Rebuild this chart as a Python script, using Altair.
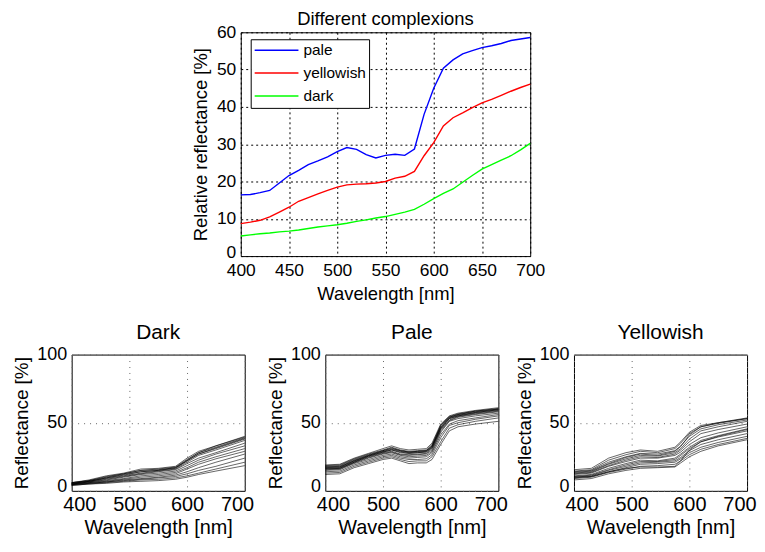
import altair as alt
import pandas as pd

FONT = "Liberation Sans"

# ---------- top panel: mean reflectance per complexion ----------
top_wl = [400, 410, 420, 430, 440, 450, 460, 470, 480, 490, 500, 510, 520, 530, 540,
          550, 560, 570, 580, 590, 600, 610, 620, 630, 640, 650, 660, 670, 680, 690, 700]
pale = [16.4, 16.5, 17.0, 17.6, 19.6, 21.6, 23.0, 24.5, 25.5, 26.6, 28.0, 29.1, 28.6, 27.2, 26.3,
        27.0, 27.3, 27.0, 28.7, 38.0, 45.0, 50.4, 52.6, 54.2, 55.1, 55.9, 56.4, 57.0, 57.8, 58.2, 58.6]
yellowish = [8.7, 9.1, 9.6, 10.5, 11.8, 13.1, 14.7, 15.7, 16.7, 17.6, 18.5, 19.1, 19.3, 19.4, 19.6,
             20.0, 20.9, 21.4, 22.7, 26.9, 30.4, 34.9, 37.1, 38.4, 39.8, 41.1, 42.0, 43.1, 44.2, 45.2, 46.1]
dark = [5.4, 5.7, 6.0, 6.2, 6.5, 6.7, 7.0, 7.4, 7.8, 8.1, 8.4, 8.8, 9.3, 9.7, 10.2,
        10.6, 11.2, 11.8, 12.5, 13.9, 15.4, 16.8, 18.0, 19.8, 21.6, 23.3, 24.5, 25.7, 26.9, 28.5, 30.2]
series_names = ["pale", "yellowish", "dark"]
series_colors = ["#0000ff", "#ff0000", "#00ff00"]

# ---------- bottom panels: individual spectra ----------
dark_wl = [400, 430, 460, 490, 520, 550, 580, 600, 620, 650, 700]
dark_curves = [
    [6.0, 8.0, 11.0, 13.0, 16.0, 16.5, 18.0, 24.0, 29.0, 33.0, 40.0],
    [6.0, 7.5, 10.5, 12.5, 15.0, 16.0, 17.5, 23.0, 28.0, 32.0, 39.0],
    [5.5, 7.0, 9.5, 12.0, 14.0, 15.0, 17.0, 22.0, 27.0, 31.0, 38.0],
    [5.5, 7.0, 9.0, 11.0, 13.0, 14.5, 16.0, 21.0, 26.0, 30.0, 37.0],
    [5.0, 6.5, 8.5, 10.5, 12.5, 14.0, 15.5, 20.0, 24.0, 28.0, 35.0],
    [5.0, 6.5, 8.0, 10.0, 12.0, 13.0, 14.5, 18.5, 22.5, 27.0, 33.0],
    [5.0, 6.0, 7.5, 9.0, 11.0, 12.0, 13.5, 17.0, 21.0, 25.0, 31.0],
    [4.5, 6.0, 7.0, 8.5, 10.0, 11.0, 12.5, 16.0, 19.5, 23.5, 29.0],
    [4.5, 5.5, 6.5, 8.0, 9.0, 10.0, 11.5, 14.0, 17.0, 21.0, 27.0],
    [4.5, 5.5, 6.5, 7.5, 8.5, 9.5, 10.5, 12.5, 15.0, 18.0, 24.0],
    [4.0, 5.0, 6.0, 7.0, 8.0, 8.5, 9.5, 11.0, 13.0, 16.0, 21.0],
    [4.0, 5.0, 5.5, 6.5, 7.0, 7.5, 8.5, 10.0, 12.0, 14.5, 18.5],
    [6.0, 7.5, 10.0, 12.5, 15.0, 15.5, 17.0, 22.5, 28.0, 33.0, 39.5],
    [5.5, 7.0, 9.5, 11.5, 14.0, 15.0, 16.5, 22.0, 27.0, 31.5, 38.5],
]

pale_wl = [400, 425, 450, 475, 500, 515, 530, 545, 560, 575, 585, 600, 615, 630, 660, 700]
pale_curves = [
    [19.0, 19.5, 24.0, 27.5, 31.0, 33.0, 31.0, 30.0, 30.5, 31.0, 35.0, 49.0, 55.0, 57.0, 59.0, 61.0],
    [18.5, 19.0, 23.5, 27.0, 30.0, 32.0, 30.0, 29.0, 29.5, 30.0, 34.0, 48.0, 54.5, 56.5, 58.5, 60.5],
    [18.0, 18.5, 23.0, 26.5, 29.5, 31.0, 29.5, 28.5, 29.0, 29.5, 33.0, 47.0, 54.0, 56.0, 58.0, 60.0],
    [17.5, 18.0, 22.5, 26.0, 29.0, 30.5, 29.0, 28.0, 28.5, 29.0, 32.5, 46.5, 53.5, 55.5, 57.5, 59.5],
    [17.0, 17.5, 22.0, 25.5, 28.5, 30.0, 28.0, 27.5, 28.0, 28.5, 32.0, 46.0, 53.0, 55.0, 57.0, 59.0],
    [16.5, 17.0, 21.5, 25.0, 28.0, 29.0, 27.0, 26.5, 27.0, 27.5, 31.0, 45.0, 52.0, 54.5, 56.5, 58.5],
    [16.0, 16.5, 21.0, 24.5, 27.5, 28.5, 26.5, 26.0, 26.5, 27.0, 30.0, 44.0, 51.5, 54.0, 56.0, 58.0],
    [15.5, 16.0, 20.5, 24.0, 27.0, 28.0, 26.0, 25.0, 25.5, 26.0, 29.0, 43.0, 51.0, 53.0, 55.0, 57.0],
    [15.0, 15.5, 20.0, 23.0, 26.0, 27.0, 25.0, 24.0, 24.5, 25.0, 28.0, 41.0, 49.0, 51.5, 53.5, 56.0],
    [14.0, 14.5, 19.0, 22.0, 25.0, 26.0, 24.0, 23.0, 23.0, 23.5, 26.5, 39.0, 48.0, 50.0, 52.5, 55.0],
    [13.0, 13.5, 18.0, 21.0, 24.0, 25.0, 23.0, 21.5, 22.0, 22.0, 25.0, 36.0, 46.0, 48.5, 51.0, 53.5],
    [12.0, 12.5, 17.0, 20.0, 23.0, 24.0, 22.0, 20.0, 20.5, 20.5, 23.0, 34.0, 44.0, 47.0, 49.0, 51.0],
    [17.5, 17.5, 22.0, 26.0, 29.5, 31.5, 29.5, 28.5, 29.0, 29.5, 33.0, 48.0, 54.0, 56.0, 58.5, 60.0],
    [16.5, 16.5, 21.0, 25.5, 28.5, 30.0, 28.5, 27.5, 28.0, 28.5, 31.5, 45.5, 53.0, 55.0, 57.5, 59.5],
]

yel_wl = [400, 430, 460, 490, 515, 545, 575, 585, 600, 620, 650, 700]
yel_curves = [
    [15.5, 16.5, 24.0, 28.0, 30.0, 29.0, 32.0, 36.0, 43.0, 48.0, 50.0, 53.5],
    [14.5, 15.5, 22.5, 26.5, 29.0, 28.0, 31.0, 35.0, 42.0, 47.0, 49.5, 53.0],
    [14.0, 15.0, 21.0, 25.0, 27.5, 27.0, 29.5, 33.0, 40.0, 45.5, 48.5, 52.0],
    [13.0, 14.0, 19.5, 23.5, 26.0, 25.5, 28.0, 31.0, 38.0, 44.0, 47.0, 51.0],
    [12.5, 13.5, 18.5, 22.5, 25.0, 24.5, 27.0, 30.0, 36.0, 42.0, 45.0, 49.0],
    [12.0, 13.0, 18.0, 21.5, 24.0, 24.0, 26.0, 28.5, 34.0, 39.0, 42.5, 47.0],
    [11.0, 12.0, 16.5, 20.0, 22.5, 22.0, 24.0, 27.0, 32.0, 37.0, 40.5, 45.5],
    [10.5, 11.5, 15.5, 19.0, 21.5, 21.5, 23.0, 26.0, 31.0, 36.0, 39.5, 44.0],
    [10.0, 11.0, 15.0, 18.0, 20.5, 21.0, 22.0, 24.5, 29.5, 34.0, 37.5, 42.0],
    [9.5, 10.5, 14.0, 17.0, 19.5, 20.0, 21.0, 23.5, 28.0, 32.0, 35.5, 40.0],
    [9.0, 10.0, 13.5, 16.0, 18.0, 18.5, 19.5, 22.0, 26.5, 30.5, 34.0, 38.5],
    [8.0, 9.0, 12.5, 15.0, 16.5, 17.0, 17.5, 20.5, 25.0, 29.0, 33.0, 37.5],
    [13.5, 14.5, 20.0, 24.5, 27.0, 26.0, 29.0, 32.5, 41.0, 47.0, 50.0, 53.0],
    [10.0, 10.5, 14.0, 16.5, 17.5, 17.5, 18.0, 22.0, 30.0, 36.0, 40.0, 45.0],
]

# ---------- tables ----------
top_rows = []
for name, vals in zip(series_names, [pale, yellowish, dark]):
    for w, v in zip(top_wl, vals):
        top_rows.append({"wl": w, "refl": v, "series": name})
top_df = pd.DataFrame(top_rows)


def spectra_df(wl, curves):
    rows = []
    for i, c in enumerate(curves):
        for w, v in zip(wl, c):
            rows.append({"wl": w, "refl": v, "curve": i})
    return pd.DataFrame(rows)


top_grid = dict(grid=True, gridColor="black", gridDash=[2, 3], gridOpacity=1, gridWidth=1)
top_zero_lift = {"condition": {"test": "datum.value === 0", "value": -4}, "value": 0}

top = alt.Chart(top_df).mark_line(strokeWidth=1.4).encode(
    x=alt.X("wl:Q", scale=alt.Scale(domain=[400, 700], nice=False),
            axis=alt.Axis(title="Wavelength [nm]", values=[400, 450, 500, 550, 600, 650, 700],
                          labelFontSize=17.5, titleFontSize=18.5, labelPadding=6, titlePadding=5,
                          labelFlush=False, **top_grid)),
    y=alt.Y("refl:Q", scale=alt.Scale(domain=[0, 60], nice=False),
            axis=alt.Axis(title="Relative reflectance [%]", values=[0, 10, 20, 30, 40, 50, 60],
                          labelFontSize=17.5, titleFontSize=18.5, labelPadding=5, titlePadding=6,
                          labelFlush=False, labelOffset=top_zero_lift, **top_grid)),
    color=alt.Color("series:N",
                    scale=alt.Scale(domain=series_names, range=series_colors),
                    sort=series_names,
                    legend=alt.Legend(title=None, orient="none", legendX=10, legendY=7,
                                      strokeColor="black", fillColor="white", padding=3,
                                      symbolType="stroke", symbolSize=1936, symbolStrokeWidth=1.5,
                                      labelFontSize=15.5, labelFont=FONT, labelOffset=4,
                                      clipHeight=16, rowPadding=6)),
).properties(width=291, height=225,
             title=alt.TitleParams("Different complexions", fontSize=18.5, fontWeight="normal",
                                   font=FONT, offset=-5))

spacer = alt.Chart(top_df).mark_point(opacity=0).properties(
    width=119, height=10, view=alt.ViewConfig(stroke="transparent"))

top_row = alt.hconcat(spacer, top, spacing=0).resolve_legend(color="independent")

bot_grid = dict(grid=True, gridColor="#666666", gridDash=[1, 5], gridOpacity=1, gridWidth=1)
zero_lift = {"condition": {"test": "datum.value === 0", "value": -4}, "value": 0}


def panel(title, wl, curves):
    return alt.Chart(spectra_df(wl, curves)).mark_line(
        color="black", strokeWidth=0.8, opacity=0.75
    ).encode(
        x=alt.X("wl:Q", scale=alt.Scale(domain=[400, 700], nice=False),
                axis=alt.Axis(title="Wavelength [nm]", values=[400, 500, 600, 700],
                              labelFontSize=20, titleFontSize=20, labelPadding=4, titlePadding=3,
                              labelFlush=True, labelFlushOffset=9, **bot_grid)),
        y=alt.Y("refl:Q", scale=alt.Scale(domain=[0, 100], nice=False),
                axis=alt.Axis(title="Reflectance [%]", values=[0, 50, 100],
                              labelFontSize=18, titleFontSize=19, labelPadding=5, titlePadding=5,
                              labelFlush=False, labelOffset=zero_lift, **bot_grid)),
        detail="curve:N",
    ).properties(width=174, height=137,
                 title=alt.TitleParams(title, fontSize=21, fontWeight="normal", font=FONT, offset=3))


bottom = alt.hconcat(
    alt.hconcat(panel("Dark", dark_wl, dark_curves),
                panel("Pale", pale_wl, pale_curves), spacing=11),
    panel("Yellowish", yel_wl, yel_curves),
    spacing=6,
)

chart = alt.vconcat(top_row, bottom, spacing=17).resolve_legend(
    color="independent"
).configure(
    font=FONT, padding={"left": 4, "top": 0, "right": 0, "bottom": 0}
).configure_view(
    stroke="black", strokeWidth=1
).configure_axis(
    domain=False, ticks=False, labelColor="black", titleColor="black",
    titleFontWeight="normal", labelFont=FONT, titleFont=FONT
).configure_title(color="black")

chart.save("out.html", embed_options={"renderer": "svg", "actions": False})
